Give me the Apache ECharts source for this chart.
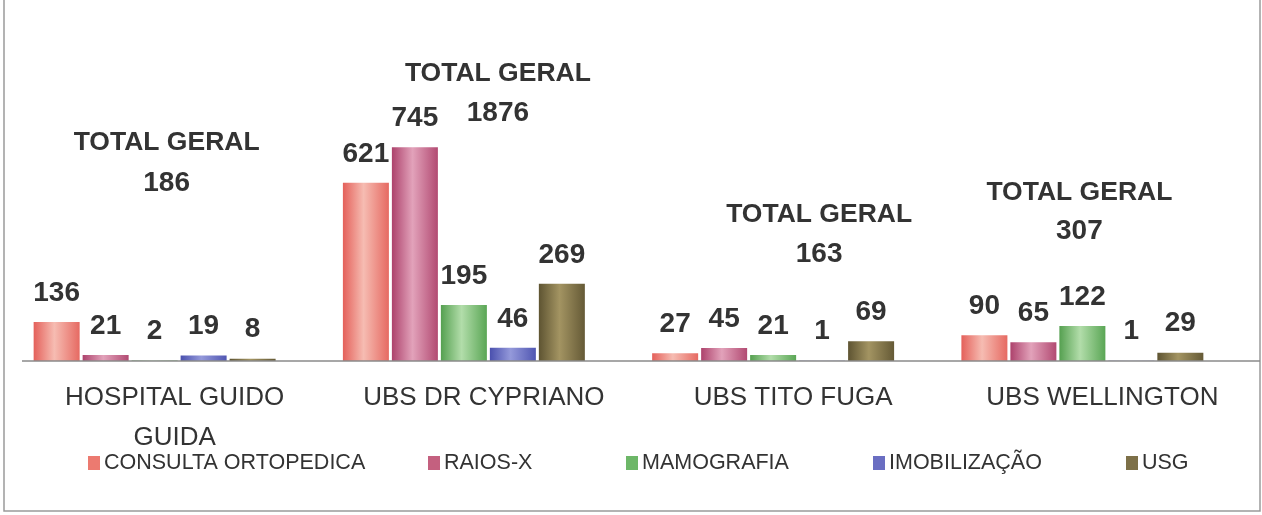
<!DOCTYPE html>
<html>
<head>
<meta charset="utf-8">
<script src="https://cdn.jsdelivr.net/npm/echarts@6/dist/echarts.min.js"></script>
<style>html,body{margin:0;padding:0;background:#fff}#c{width:1262px;height:515px}</style>
</head>
<body>
<div id="c"></div>
<script>
// ---- data ----
const categories = ['HOSPITAL GUIDO\nGUIDA', 'UBS DR CYPRIANO', 'UBS TITO FUGA', 'UBS WELLINGTON'];
const seriesNames = ['CONSULTA ORTOPEDICA', 'RAIOS-X', 'MAMOGRAFIA', 'IMOBILIZAÇÃO', 'USG'];
const consulta = [136, 621, 27, 90];
const raiosX = [21, 745, 45, 65];
const mamografia = [2, 195, 21, 122];
const imobilizacao = [19, 46, 1, 1];
const usg = [8, 269, 69, 29];
const totalTitle = 'TOTAL GERAL';

// ---- styles / layout ----
const seriesValues = [consulta, raiosX, mamografia, imobilizacao, usg];
const totals = categories.map((c, i) => seriesValues.reduce((s, arr) => s + arr[i], 0));
const palette = [
  ['#e4605a', '#f6bcb2', '#e66a62'],
  ['#ad426c', '#e2a2ba', '#b24a72'],
  ['#55a050', '#b2ddaa', '#5aa655'],
  ['#4a50ae', '#9499da', '#5056b2'],
  ['#5e5432', '#a39462', '#655a36']
];
const legendIconColor = ['#ec7a70', '#c4607f', '#6db768', '#6a6ec2', '#7d7048'];
const legendLefts = [88, 428, 626, 873, 1126];
const totalLayout = [
  { dx: 12, y1: 143, y2: 183 },
  { dx: 34, y1: 74, y2: 113 },
  { dx: 46, y1: 215, y2: 254 },
  { dx: -3, y1: 193, y2: 231 }
];
const FONT = '"Liberation Sans", Arial, sans-serif';

function grad(c) {
  return new echarts.graphic.LinearGradient(0, 0, 1, 0, [
    { offset: 0, color: c[0] }, { offset: 0.45, color: c[1] }, { offset: 1, color: c[2] }
  ]);
}

const chart = echarts.init(document.getElementById('c'), null, { renderer: 'canvas' });

const barSeries = seriesNames.map((name, k) => ({
  name, type: 'bar', data: seriesValues[k],
  barWidth: 46, barGap: '6.5%',
  itemStyle: { color: grad(palette[k]) },
  label: {
    show: true, position: 'top', distance: 15,
    fontFamily: FONT, fontSize: 28, fontWeight: 'bold', color: '#333'
  },
  emphasis: { disabled: true }
}));

const totalSeries = {
  type: 'custom', name: 'totals', silent: true, clip: false,
  data: totals.map((t, i) => [i, t]),
  encode: { x: 0, y: -1 },
  renderItem: function (params, api) {
    const i = api.value(0);
    const lay = totalLayout[i];
    const x = api.coord([i, 0])[0] + lay.dx;
    const st = { fontFamily: FONT, fontSize: 26.5, fontWeight: 'bold', fill: '#333', align: 'center', verticalAlign: 'middle' };
    return {
      type: 'group',
      children: [
        { type: 'text', style: Object.assign({}, st, { text: totalTitle, x: x, y: lay.y1 }) },
        { type: 'text', style: Object.assign({}, st, { text: String(api.value(1)), x: x, y: lay.y2, fontSize: 28 }) }
      ]
    };
  }
};

const option = {
  backgroundColor: '#fff',
  animation: false,
  grid: { left: 0, right: 25, top: 0, bottom: 154, containLabel: false },
  xAxis: {
    type: 'category', data: categories,
    axisLine: { show: false }, axisTick: { show: false },
    axisLabel: {
      interval: 0, margin: 17, fontFamily: FONT, fontSize: 26, color: '#333',
      lineHeight: 40, padding: [0, 0, 0, 40]
    }
  },
  yAxis: { type: 'value', min: 0, max: 1258, show: false, splitLine: { show: false } },
  legend: seriesNames.map((n, k) => ({
    data: [{ name: n, itemStyle: { color: legendIconColor[k] } }],
    left: legendLefts[k], top: 452, padding: 0,
    itemWidth: 12, itemHeight: 14, icon: 'rect', itemGap: 0, selectedMode: false,
    textStyle: { fontFamily: FONT, fontSize: 21.5, color: '#333', padding: [0, 0, 0, -1] }
  })),
  graphic: [
    { type: 'line', shape: { x1: 22, y1: 361, x2: 1260, y2: 361 }, style: { stroke: '#8a8a8a', lineWidth: 1.5 }, z: 10 },
    { type: 'polyline', shape: { points: [[4, 0], [4, 511], [1260, 511], [1260, 0]] }, style: { stroke: '#9a9a9a', lineWidth: 1.5, fill: null } }
  ],
  series: barSeries.concat([totalSeries])
};
chart.setOption(option);
</script>
</body>
</html>
